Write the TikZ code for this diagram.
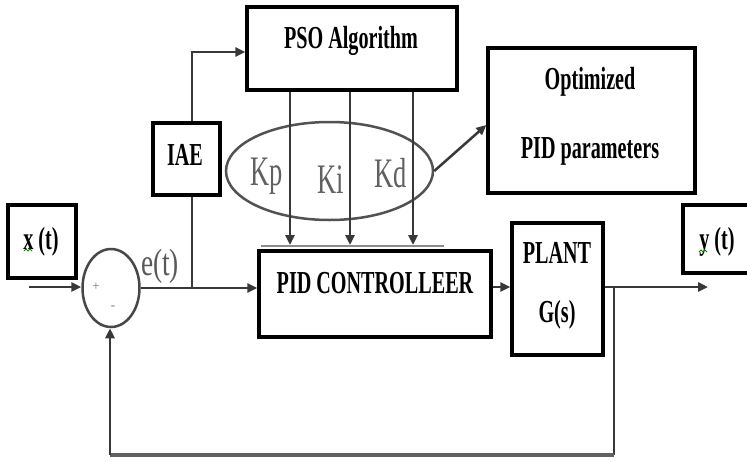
\documentclass[tikz,border=0pt]{standalone}
\usepackage{fontspec}
\setmainfont{Liberation Serif}
\newfontfamily\cond{Liberation Serif}[FakeStretch=0.63]
\newfontfamily\condw{Liberation Serif}[FakeStretch=0.72]
\usetikzlibrary{arrows.meta,shapes.geometric}
\begin{document}
\begin{tikzpicture}[x=1pt,y=-1pt,
  box/.style={draw=black,line width=3.4pt,inner sep=0pt},
  txt/.style={font=\cond\bfseries\fontsize{32}{32}\selectfont,anchor=base,inner sep=0pt},
  gain/.style={font=\cond\fontsize{42}{42}\selectfont,text=black!62,anchor=base,inner sep=0pt},
  sgn/.style={font=\fontsize{13}{13}\selectfont,text=black!55,inner sep=0pt},
  conn/.style={draw=black!78,line width=2.5pt},
  arr/.style={conn,-{Triangle[length=10pt,width=9pt]}},
  squig/.style={draw=green!55!black,line width=0.9pt},
]
\useasboundingbox (0,0) rectangle (747,461);
\fill[white] (0,0) rectangle (747,461);

% boxes
\node[box,minimum width=210pt,minimum height=83pt] (pso) at (352,48.5) {};
\node[box,minimum width=67pt,minimum height=72pt] (iae) at (186.5,159) {};
\node[box,minimum width=68pt,minimum height=73pt] (xin) at (42,241.5) {};
\node[box,minimum width=80pt,minimum height=68pt] (yout) at (723,239) {};
\node[box,minimum width=232pt,minimum height=86pt] (pid) at (375,294) {};
\node[box,minimum width=91pt,minimum height=132pt] (plant) at (557.5,289) {};
\node[box,minimum width=207pt,minimum height=145pt] (opt) at (591.5,120.5) {};
\node[draw=black!72,line width=2.5pt,ellipse,minimum width=57pt,minimum height=78pt,inner sep=0pt] (sum) at (111,288) {};
\node[draw=black!68,line width=2.5pt,ellipse,minimum width=207pt,minimum height=98pt,inner sep=0pt] (gains) at (329.5,171) {};

% texts
\node[txt] (tpso) at (351,48) {PSO Algorithm};
\node[txt] (tiae) at (185,165) {IAE};
\node[txt] (tpid) at (375,293) {PID CONTROLLEER};
\node[txt] (topt1) at (590,89) {Optimized};
\node[txt] (topt2) at (590,158) {PID parameters};
\node[txt] (tplant) at (557,263) {PLANT};
\node[txt] (tgs) at (557,322) {G(s)};
\node[txt] (tx) at (41,249) {x (t)};
\node[txt] (ty) at (717,249) {y (t)};
\node[gain] (kp) at (267,185) {Kp};
\node[gain] (ki) at (331,193) {Ki};
\node[gain] (kd) at (391,187) {Kd};
\node[font=\condw\fontsize{38}{38}\selectfont,text=black!65,anchor=base,inner sep=0pt] (et) at (160,275) {e(t)};
\node[sgn] (plus) at (96,287) {+};
\node[sgn] (minus) at (113,308) {-};

% spell-check squiggles
\draw[squig] (24,251) -- (26,249) -- (28,251) -- (30,249) -- (32,251);
\draw[squig] (699,252) -- (701,250) -- (703,252) -- (705,250) -- (707,252);

% gray bar above PID
\draw[black!45,line width=2.2pt] (261,246) -- (444,246);

% coordinates
\coordinate (in) at (29,287);
\coordinate (j1) at (192,288);
\coordinate (a1) at (290,245);
\coordinate (a2) at (350,245);
\coordinate (a3) at (413,245);
\coordinate (out) at (708,287);
\coordinate (j2) at (614,287);
\coordinate (fb) at (110,455);

% connectors
\draw[arr] (in) -- (sum.west |- in);
\draw[arr] (sum.east |- j1) -- (pid.west |- j1);
\draw[conn] (j1) -- (j1 |- iae.south);
\draw[arr] (j1 |- iae.north) |- ([yshift=-3.5pt]pso.west);
\draw[arr] (a1 |- pso.south) -- (a1);
\draw[arr] (a2 |- pso.south) -- (a2);
\draw[arr] (a3 |- pso.south) -- (a3);
\draw[arr] (gains.east) -- ([yshift=-4.5pt]opt.west);
\draw[arr] (pid.east |- out) -- (plant.west |- out);
\draw[arr] (plant.east |- out) -- (out);
\draw[conn] (j2) -- (j2 |- fb);
\draw[draw=black!62,line width=3.5pt] (j2 |- fb) -- (fb);
\draw[arr] (fb) -- (fb |- sum.south);
\end{tikzpicture}
\end{document}
